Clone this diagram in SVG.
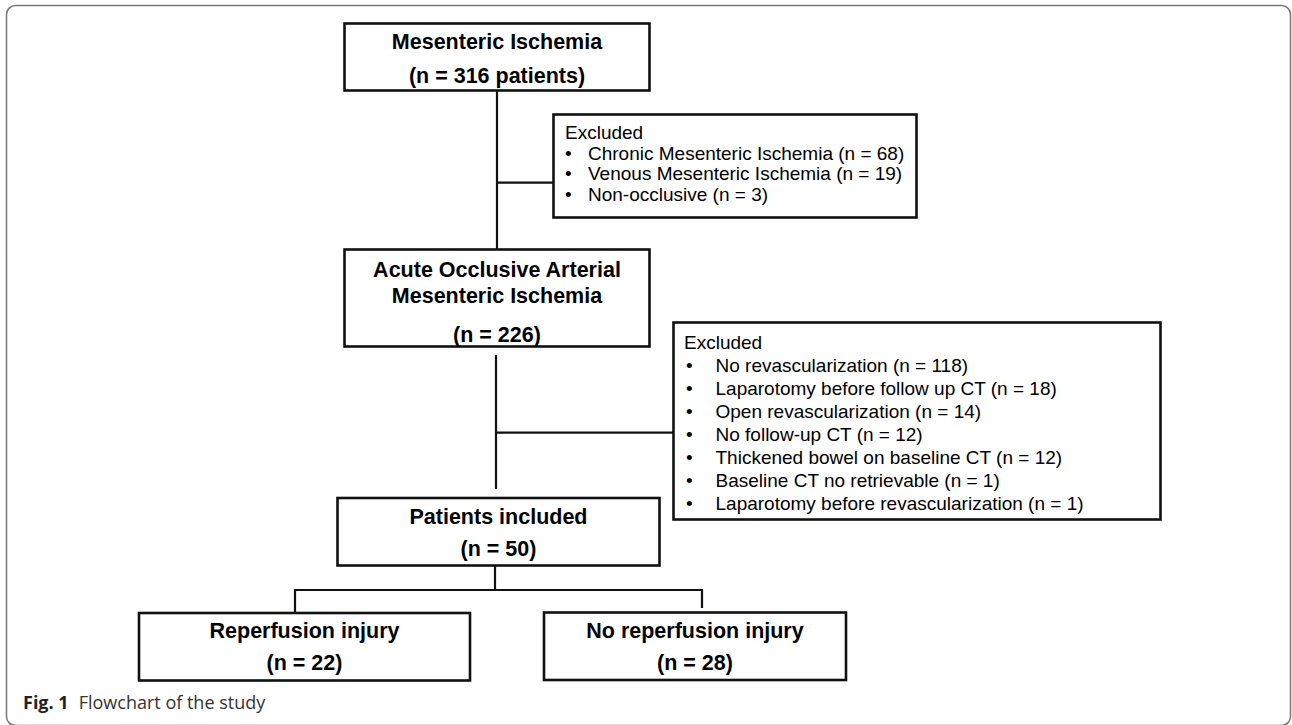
<svg xmlns="http://www.w3.org/2000/svg" width="1292" height="725" viewBox="0 0 1292 725">
<style>
.box{fill:#fff;stroke:#111;stroke-width:2.6}
.ln{stroke:#111;stroke-width:2.2;fill:none}
.b{font-family:"Liberation Sans",Arial,sans-serif;font-weight:bold;font-size:21.5px;fill:#000;text-anchor:middle}
.r{font-family:"Liberation Sans",Arial,sans-serif;font-size:19px;fill:#000}
.cap{font-family:"Open Sans","Noto Sans",sans-serif;font-size:18px;fill:#333}
</style>
<rect x="6.5" y="5.5" width="1284" height="720" rx="9" fill="#fff" stroke="#777" stroke-width="1.5"/>
<g id="connectors">
<line class="ln" x1="497" y1="91" x2="497" y2="249"/>
<line class="ln" x1="497" y1="182.7" x2="553" y2="182.7"/>
<line class="ln" x1="496" y1="355" x2="496" y2="489"/>
<line class="ln" x1="496" y1="432.7" x2="673" y2="432.7"/>
<line class="ln" x1="495" y1="566" x2="495" y2="590"/>
<polyline class="ln" points="295,613 295,590 702,590 702,608"/>
</g>
<g id="n1">
<rect class="box" x="344.5" y="23.5" width="305" height="67"/>
<text class="b" x="497" y="49">Mesenteric Ischemia</text>
<text class="b" x="497" y="82.5">(n = 316 patients)</text>
</g>
<g id="ex1">
<rect class="box" x="553.5" y="114.5" width="363" height="103"/>
<text class="r" x="565" y="139">Excluded</text>
<text class="r" x="565" y="159.5">•</text><text class="r" x="588" y="159.5">Chronic Mesenteric Ischemia (n = 68)</text>
<text class="r" x="565" y="180">•</text><text class="r" x="588" y="180">Venous Mesenteric Ischemia (n = 19)</text>
<text class="r" x="565" y="200.5">•</text><text class="r" x="588" y="200.5">Non-occlusive (n = 3)</text>
</g>
<g id="n2">
<rect class="box" x="344.5" y="249.5" width="305" height="97"/>
<text class="b" x="497" y="276.5">Acute Occlusive Arterial</text>
<text class="b" x="497" y="303">Mesenteric Ischemia</text>
<text class="b" x="497" y="342">(n = 226)</text>
</g>
<g id="ex2">
<rect class="box" x="673.5" y="322.5" width="487" height="197"/>
<text class="r" x="684" y="348.5">Excluded</text>
<text class="r" x="686" y="371.5">•</text><text class="r" x="715.5" y="371.5">No revascularization (n = 118)</text>
<text class="r" x="686" y="394.5">•</text><text class="r" x="715.5" y="394.5">Laparotomy before follow up CT (n = 18)</text>
<text class="r" x="686" y="417.5">•</text><text class="r" x="715.5" y="417.5">Open revascularization (n = 14)</text>
<text class="r" x="686" y="440.5">•</text><text class="r" x="715.5" y="440.5">No follow-up CT (n = 12)</text>
<text class="r" x="686" y="463.5">•</text><text class="r" x="715.5" y="463.5">Thickened bowel on baseline CT (n = 12)</text>
<text class="r" x="686" y="486.5">•</text><text class="r" x="715.5" y="486.5">Baseline CT no retrievable (n = 1)</text>
<text class="r" x="686" y="509.5">•</text><text class="r" x="715.5" y="509.5">Laparotomy before revascularization (n = 1)</text>
</g>
<g id="n3">
<rect class="box" x="337.5" y="498" width="322" height="67.5"/>
<text class="b" x="498.5" y="523.5">Patients included</text>
<text class="b" x="498.5" y="555.5">(n = 50)</text>
</g>
<g id="n4">
<rect class="box" x="139" y="613" width="331" height="67.5"/>
<text class="b" x="304.5" y="637.5">Reperfusion injury</text>
<text class="b" x="304.5" y="670">(n = 22)</text>
</g>
<g id="n5">
<rect class="box" x="544" y="612.5" width="302" height="67.5"/>
<text class="b" x="695" y="637.5">No reperfusion injury</text>
<text class="b" x="695" y="670">(n = 28)</text>
</g>
<text class="cap" x="23" y="709"><tspan font-weight="bold" fill="#222">Fig. 1</tspan><tspan dx="10">Flowchart of the study</tspan></text>
</svg>
